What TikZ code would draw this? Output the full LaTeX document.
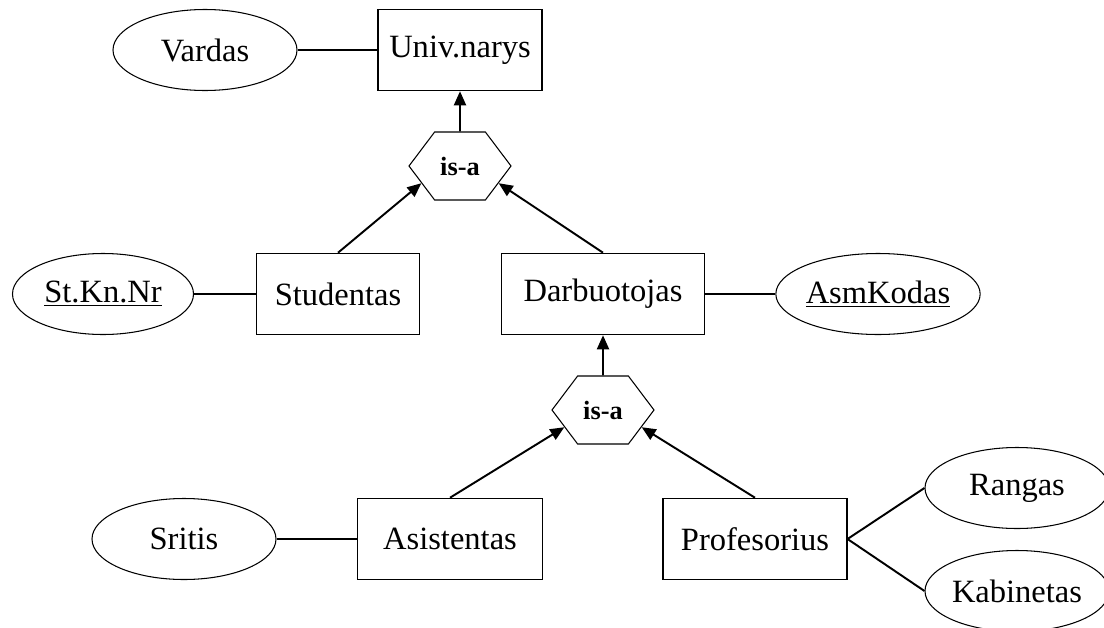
\documentclass[tikz,border=0pt]{standalone}
\usepackage{fontspec}
\setmainfont{Liberation Serif}
\usetikzlibrary{shapes.geometric,shapes.symbols,arrows.meta}

\begin{document}
\begin{tikzpicture}[
    x=0.2mm, y=-0.2mm,
    >={Triangle[length=2.8mm,width=2.4mm]},
    entity/.style={
        rectangle, draw, line width=0.6pt,
        minimum height=1.63cm, inner sep=0pt,
        font=\fontsize{18.5}{22}\selectfont
    },
    attr/.style={
        ellipse, draw, line width=0.6pt,
        minimum width=3.68cm, minimum height=1.62cm, inner sep=0pt,
        font=\fontsize{18.5}{22}\selectfont
    },
    isa/.style={
        signal, signal to=east and west, signal pointer angle=106,
        draw, line width=0.6pt,
        minimum width=2.04cm, minimum height=1.36cm, inner sep=0pt,
        font=\fontsize{15}{18}\selectfont\bfseries
    },
    arr/.style={->, line width=1.1pt},
    link/.style={line width=1.1pt}
]
    \useasboundingbox (0,0) rectangle (1104,627);

    % upper level
    \node[entity, minimum width=3.28cm] (univ) at (460,50) {Univ.narys};
    \node[attr] (vardas) at (205,50) {Vardas};
    \node[isa] (isa1) at (460,166) {is-a};

    \node[entity, minimum width=3.26cm] (stud) at (338,294) {Studentas};
    \node[entity, minimum width=4.06cm] (darb) at (603,294) {Darbuotojas};
    \node[attr, minimum width=3.62cm] (stkn) at (103,294) {\underline{St.Kn.Nr}};
    \node[attr] (asm) at (878,294) {\underline{AsmKodas}};

    % lower level
    \node[isa] (isa2) at (603,410) {is-a};
    \node[entity, minimum width=3.7cm] (asist) at (450,539) {Asistentas};
    \node[entity, minimum width=3.68cm] (prof) at (755,539) {Profesorius};
    \node[attr] (sritis) at (184,539) {Sritis};
    \node[attr] (rangas) at (1017,488) {Rangas};
    \node[attr] (kabin) at (1017,591) {Kabinetas};

    \draw[link] (vardas) -- (univ);
    \draw[arr] (isa1) -- (univ);
    \draw[arr] (stud.north) -- (isa1.204);
    \draw[arr] (darb.north) -- (isa1.336);
    \draw[link] (stkn) -- (stud);
    \draw[link] (darb) -- (asm);

    \draw[arr] (isa2) -- (darb);
    \draw[arr] (asist.north) -- (isa2.204);
    \draw[arr] (prof.north) -- (isa2.336);
    \draw[link] (sritis) -- (asist);
    \draw[link] (prof.east) -- (rangas.west);
    \draw[link] (prof.east) -- (kabin.west);
\end{tikzpicture}
\end{document}
